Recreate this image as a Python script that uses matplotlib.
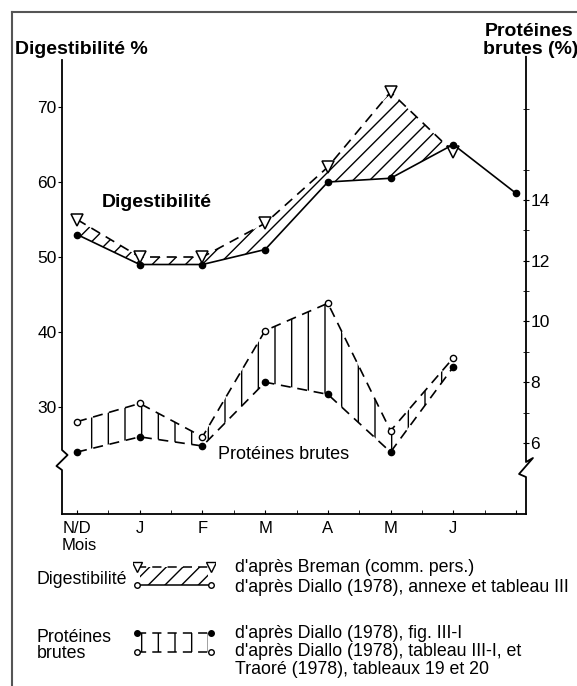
import matplotlib
matplotlib.use("Agg")
import matplotlib.pyplot as plt
from matplotlib.lines import Line2D

plt.rcParams['font.family'] = ['Liberation Sans', 'DejaVu Sans']
plt.rcParams['hatch.linewidth'] = 1.0

# donnees
mois = ["N/D", "J", "F", "M", "A", "M", "J", ""]
x_mois = [0, 1, 2, 3, 4, 5, 6, 7]
x_breman = [0, 1, 2, 3, 4, 5, 6]
dig_breman = [55, 50, 50, 54.5, 62, 72, 64]
x_diallo = [0, 1, 2, 3, 4, 5, 6, 7]
dig_diallo = [53, 49, 49, 51, 60, 60.5, 65, 58.5]
x_prot = [0, 1, 2, 3, 4, 5, 6]
prot_fig = [5.7, 6.2, 5.9, 8.0, 7.6, 5.7, 8.5]
prot_tab = [6.7, 7.3, 6.2, 9.7, 10.6, 6.4, 8.8]

W, H = 577, 686
fig = plt.figure(figsize=(W / 100, H / 100), dpi=100)


def fx(px):
    return px / W


def fy(py):
    return 1 - py / H


ax = fig.add_axes([fx(62), fy(514), fx(526) - fx(62), fy(60) - fy(514)])
ax.set_xlim(-0.24, 7.16)
ax.set_ylim(15.73, 76.27)
ax2 = ax.twinx()
ax2.set_ylim(3.66, 18.61)

dash = (0, (6, 4))

# digestibilite
ax.fill_between(x_breman, dig_breman, dig_diallo[:7], facecolor='none',
                edgecolor='k', hatch='//', linewidth=0)
ax.plot(x_breman, dig_breman, ls=dash, color='k', lw=1.2, marker='v', ms=8,
        mfc='white', mec='k', mew=1.1, zorder=3)
ax.plot(x_diallo, dig_diallo, '-', color='k', lw=1.2, marker='o', ms=4.5, zorder=3)

# proteines brutes
ax2.fill_between(x_prot, prot_tab, prot_fig, facecolor='none',
                 edgecolor='k', hatch='|', linewidth=0)
ax2.plot(x_prot, prot_fig, ls=dash, color='k', lw=1.2, marker='o', ms=4.5, zorder=3)
ax2.plot(x_prot, prot_tab, ls=dash, color='k', lw=1.2, marker='o', ms=4.5,
         mfc='white', mec='k', zorder=3)

# axes avec coupures
for s in ['top', 'left', 'right']:
    ax.spines[s].set_visible(False)
for s in ax2.spines.values():
    s.set_visible(False)
ax.spines['bottom'].set_linewidth(1.3)


def yf(py):
    return (514 - py) / 454


ax.plot([0, 0, 0.012, -0.012, 0, 0],
        [1, yf(450), yf(455), yf(466), yf(470), 0],
        transform=ax.transAxes, clip_on=False, color='k', lw=1.3)
ax.plot([1, 1, 1.015, 0.985, 1, 1],
        [1.007, yf(462), yf(458), yf(474), yf(477), 0],
        transform=ax.transAxes, clip_on=False, color='k', lw=1.3)

ax.set_xticks(x_mois)
ax.set_xticklabels(mois)
ax.set_xticks([0.5, 1.5, 2.5, 3.5, 4.5, 5.5, 6.5], minor=True)
ax.tick_params(axis='x', which='both', direction='in', length=3, pad=5, labelsize=12)

ax.set_yticks([30, 40, 50, 60, 70])
ax.tick_params(axis='y', direction='out', length=3, pad=1, labelsize=12.5)
ax2.set_yticks([6, 8, 10, 12, 14])
ax2.set_yticks([7, 9, 11, 13, 15, 17], minor=True)
ax2.tick_params(axis='y', which='both', direction='inout', length=4, pad=1, labelsize=12.5)

ax.text(0.4, 57.3, "Digestibilité", fontsize=14, fontweight='bold', va='center')
ax.text(2.25, 23.6, "Protéines brutes", fontsize=13, va='center')

fig.text(fx(15), fy(50), "Digestibilité %", fontsize=14, fontweight='bold', va='center')
fig.text(fx(485), fy(32), "Protéines", fontsize=14, fontweight='bold', va='center')
fig.text(fx(483), fy(50), "brutes (%)", fontsize=14, fontweight='bold', va='center')
fig.text(fx(62), fy(546), "Mois", fontsize=12, va='center')

# legende
fig.text(fx(37), fy(580), "Digestibilité", fontsize=12.8, va='center')
fig.text(fx(37), fy(637), "Protéines", fontsize=12.8, va='center')
fig.text(fx(37), fy(654), "brutes", fontsize=12.8, va='center')
lignes = [(568, "d'après Breman (comm. pers.)"),
          (587, "d'après Diallo (1978), annexe et tableau III"),
          (633, "d'après Diallo (1978), fig. III-I"),
          (651, "d'après Diallo (1978), tableau III-I, et"),
          (670, "Traoré (1978), tableaux 19 et 20")]
for y, t in lignes:
    fig.text(fx(235), fy(y), t, fontsize=12.8, va='center')

lg1 = fig.add_axes([fx(133), fy(592), fx(215) - fx(133), fy(560) - fy(592)])
lg1.set_xlim(0, 1)
lg1.set_ylim(0, 1)
lg1.axis('off')
lg1.fill_between([0.08, 0.92], [0.78, 0.78], [0.22, 0.22], facecolor='none',
                 edgecolor='k', hatch='//', linewidth=0)
lg1.plot([0.05, 0.95], [0.78, 0.78], ls=dash, color='k', lw=1.1, marker='v', ms=7,
         mfc='white')
lg1.plot([0.05, 0.95], [0.22, 0.22], '-', color='k', lw=1.1, marker='o', ms=4,
         mfc='white')

lg2 = fig.add_axes([fx(133), fy(659), fx(215) - fx(133), fy(626) - fy(659)])
lg2.set_xlim(0, 1)
lg2.set_ylim(0, 1)
lg2.axis('off')
lg2.fill_between([0.08, 0.92], [0.79, 0.79], [0.21, 0.21], facecolor='none',
                 edgecolor='k', hatch='|', linewidth=0)
lg2.plot([0.05, 0.95], [0.79, 0.79], ls=dash, color='k', lw=1.1, marker='o', ms=4)
lg2.plot([0.05, 0.95], [0.21, 0.21], ls=dash, color='k', lw=1.1, marker='o', ms=4,
         mfc='white')

# cadre
fig.add_artist(Line2D([fx(12), fx(12)], [fy(12), 0], color='#555555', lw=1.5))
fig.add_artist(Line2D([fx(12), 1], [fy(12), fy(12)], color='#555555', lw=1.5))

fig.savefig("out.png", dpi=100)
